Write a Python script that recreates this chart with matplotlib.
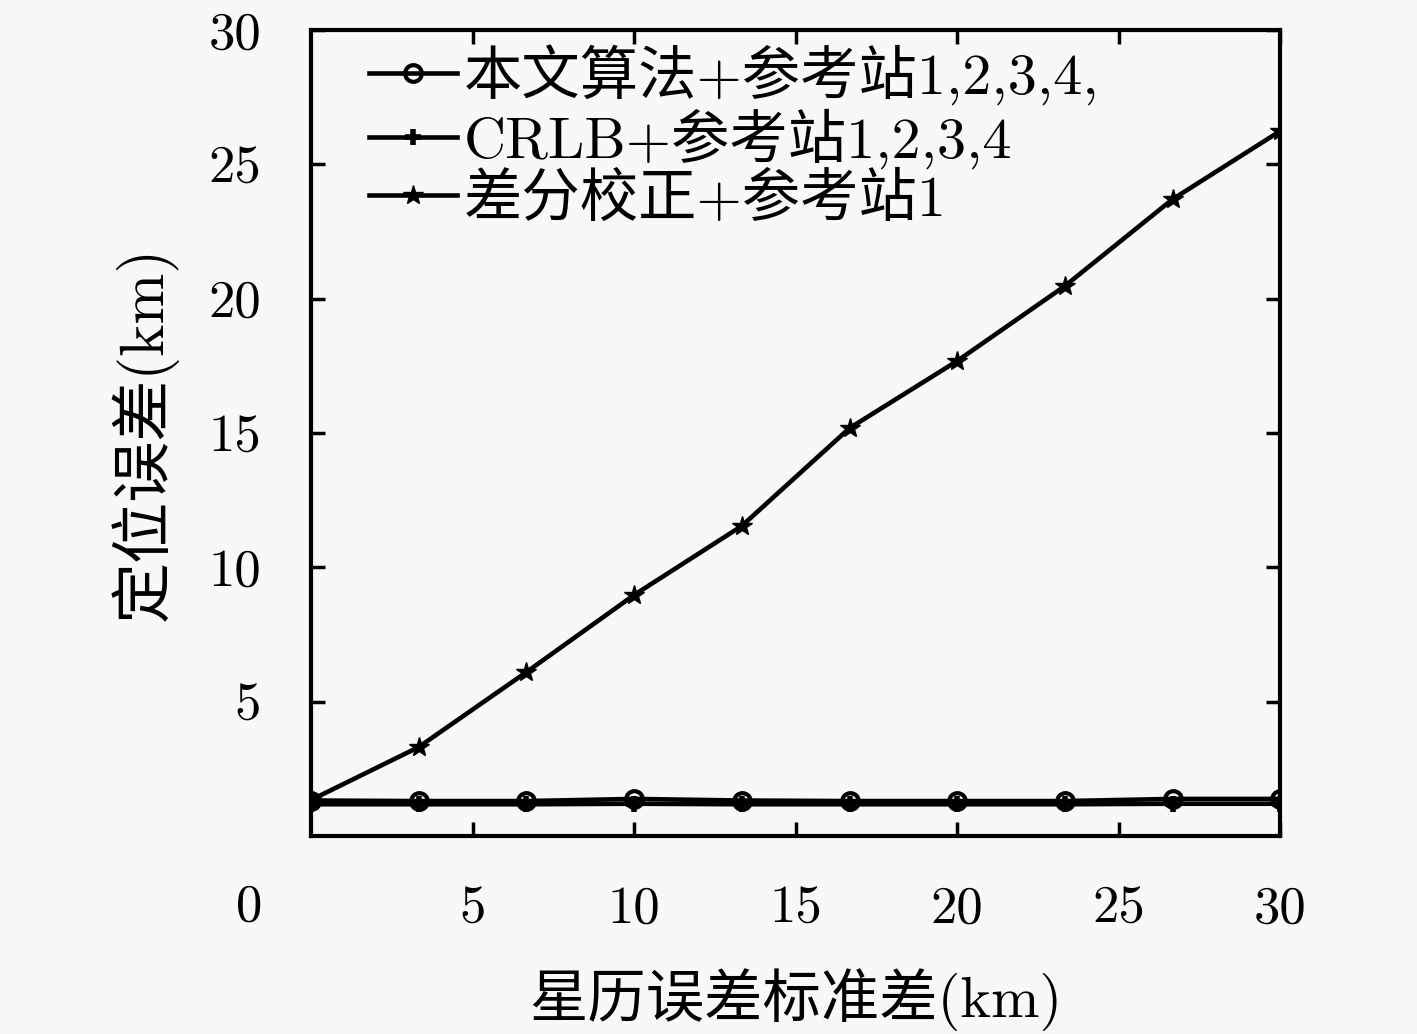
import matplotlib
matplotlib.use("Agg")
import matplotlib.pyplot as plt

# Data
x_vals = [0, 3.333, 6.667, 10, 13.333, 16.667, 20, 23.333, 26.667, 30]
proposed = [1.32, 1.30, 1.30, 1.38, 1.32, 1.30, 1.30, 1.30, 1.38, 1.38]
crlb = [1.18, 1.18, 1.18, 1.20, 1.18, 1.18, 1.18, 1.18, 1.20, 1.20]
diff_corr = [1.34, 3.31, 6.10, 8.97, 11.54, 15.18, 17.68, 20.47, 23.70, 26.24]
labels = ['本文算法+参考站1,2,3,4,', 'CRLB+参考站1,2,3,4', '差分校正+参考站1']
x_ticks = [5, 10, 15, 20, 25, 30]
y_ticks = [5, 10, 15, 20, 25, 30]
xlabel = '星历误差标准差(km)'
ylabel = '定位误差(km)'

fam = ['cmr10', 'Noto Sans CJK SC', 'DejaVu Serif']
plt.rcParams['font.family'] = fam
plt.rcParams['axes.unicode_minus'] = False

bg = '#f8f8f8'
fig = plt.figure(figsize=(14.17, 10.34), dpi=100, facecolor=bg)
ax = fig.add_axes([0.2195, 0.1915, 0.684, 0.7795])
ax.set_facecolor(bg)

lw = 3.3
ax.plot(x_vals, proposed, color='black', lw=lw, marker='o', ms=12,
        mfc='none', mew=3, label=labels[0])
ax.plot(x_vals, crlb, color='black', lw=lw, marker='+', ms=12,
        mew=4, label=labels[1])
ax.plot(x_vals, diff_corr, color='black', lw=lw, marker='*', ms=15,
        mfc='black', mec='black', label=labels[2])

ax.set_xlim(0, 30)
ax.set_ylim(0, 30)
ax.set_xticks(x_ticks)
ax.set_yticks(y_ticks)
ax.tick_params(direction='in', length=10, width=2.5, top=True, right=True,
               labelsize=38, pad=36)
for lab in ax.get_xticklabels() + ax.get_yticklabels():
    lab.set_family(fam)
for s in ax.spines.values():
    s.set_linewidth(3)

# origin label
ax.text(-0.064, -0.088, '0', transform=ax.transAxes, fontsize=38,
        ha='center', va='center', family=fam)

ax.set_xlabel(xlabel, fontsize=42, labelpad=25, family=fam)
ax.set_ylabel(ylabel, fontsize=44, labelpad=22, family=fam)

leg = ax.legend(loc='upper left', bbox_to_anchor=(0.015, 1.037), frameon=False,
                fontsize=42, handlelength=1.5, handletextpad=0.12,
                labelspacing=0.06, borderpad=0.25)
for t in leg.get_texts():
    t.set_family(fam)

fig.savefig('out.png', dpi=100, facecolor=bg)
